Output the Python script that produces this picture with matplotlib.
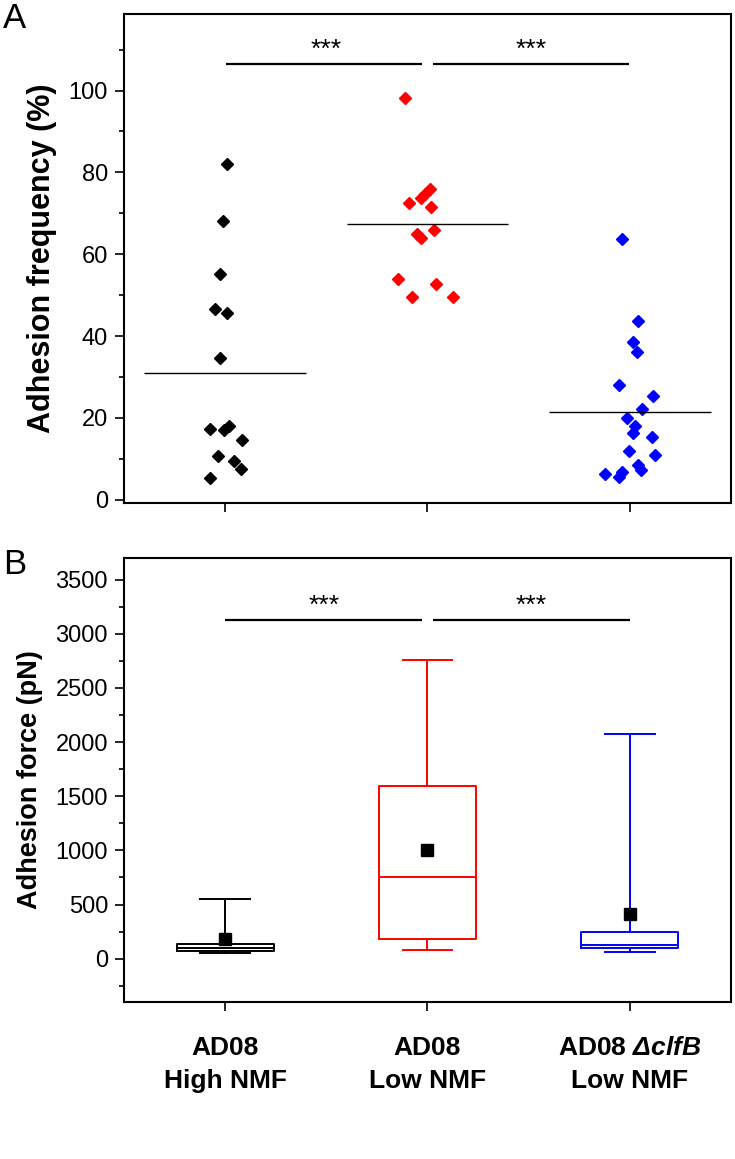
import matplotlib
matplotlib.use("Agg")
import matplotlib.pyplot as plt
from matplotlib.ticker import MultipleLocator

plt.rcParams['font.family'] = ['Liberation Sans', 'DejaVu Sans']
plt.rcParams['mathtext.fontset'] = 'custom'
plt.rcParams['mathtext.bfit'] = 'Liberation Sans:italic:bold'

# groups
groups = ['AD08\nHigh NMF', 'AD08\nLow NMF', 'AD08 $\\mathbfit{Δ clfB}$\nLow NMF']
colors = ['black', 'red', 'blue']

# panel A: adhesion frequency (%) per cell, x = jittered position
high_x = [1.011, 0.989, 0.975, 0.951, 1.010, 0.975, 0.926, 0.992, 1.021, 1.085, 0.964, 1.043, 1.079, 0.926]
high_y = [82.0, 68.1, 55.2, 46.5, 45.7, 34.7, 17.4, 17.1, 18.1, 14.7, 10.8, 9.4, 7.5, 5.3]
low_x = [1.891, 2.011, 1.987, 1.970, 1.909, 2.016, 2.031, 1.949, 1.970, 1.852, 2.040, 1.924, 2.126]
low_y = [98.1, 75.9, 74.7, 73.8, 72.6, 71.6, 65.8, 64.9, 64.0, 54.0, 52.6, 49.5, 49.5]
mut_x = [2.962, 3.041, 3.016, 3.033, 2.946, 3.115, 3.061, 2.984, 3.025, 3.016, 3.110, 2.995,
         3.123, 3.041, 3.053, 2.877, 2.959, 2.947]
mut_y = [63.8, 43.7, 38.5, 36.1, 28.1, 25.3, 22.2, 20.0, 18.0, 16.2, 15.3, 12.0,
         10.9, 8.4, 7.3, 6.4, 6.8, 5.6]
freq_means = [31.0, 67.3, 21.4]

# panel B: adhesion force (pN) box stats
whislo = [49, 76, 61]
q1 = [70, 178, 95]
med = [101, 752, 126]
q3 = [132, 1599, 245]
whishi = [555, 2754, 2078]
force_means = [184, 1007, 408]

fig = plt.figure(figsize=(7.35, 11.59), dpi=100)
axA = fig.add_axes([124/735, 1-503/1159, 607/735, 489/1159])
axB = fig.add_axes([124/735, 1-1002/1159, 607/735, 444/1159])

for ax in (axA, axB):
    for s in ax.spines.values():
        s.set_linewidth(1.5)
    ax.tick_params(which='both', direction='out', width=1.2, top=False, right=False)
    ax.tick_params(which='major', length=6.5, labelsize=17, pad=5)
    ax.tick_params(which='minor', length=3.5)
    ax.set_xlim(0.5, 3.5)
    ax.set_xticks([1, 2, 3])

# ---- panel A
for xs, ys, c in [(high_x, high_y, 'black'), (low_x, low_y, 'red'), (mut_x, mut_y, 'blue')]:
    axA.plot(xs, ys, ls='none', marker='D', ms=6.5, color=c, mec=c)
for i, m in enumerate(freq_means):
    axA.hlines(m, i + 1 - 0.4, i + 1 + 0.4, color='black', lw=1.0)
axA.set_ylim(-0.8, 118.7)
axA.set_yticks(range(0, 101, 20))
axA.yaxis.set_minor_locator(MultipleLocator(10))
axA.set_xticklabels([])
axA.set_ylabel('Adhesion frequency (%)', fontsize=22, fontweight='bold')
axA.yaxis.set_label_coords(-0.11, 0.5)
axA.hlines(106.4, 1.005, 1.973, color='black', lw=1.6)
axA.hlines(106.4, 2.028, 2.995, color='black', lw=1.6)
axA.text(1.50, 108.3, '***', ha='center', va='baseline', fontsize=19)
axA.text(2.51, 108.3, '***', ha='center', va='baseline', fontsize=19)

# ---- panel B
for i in range(3):
    c = colors[i]
    st = dict(whislo=whislo[i], q1=q1[i], med=med[i], q3=q3[i],
              whishi=whishi[i], mean=force_means[i], fliers=[])
    axB.bxp([st], positions=[i + 1], widths=0.48, capwidths=0.245, showmeans=True,
            showfliers=False,
            boxprops=dict(color=c, lw=1.4), medianprops=dict(color=c, lw=1.4),
            whiskerprops=dict(color=c, lw=1.4), capprops=dict(color=c, lw=1.4),
            meanprops=dict(marker='s', markerfacecolor='black', markeredgecolor='black',
                           markersize=8))
axB.set_xlim(0.5, 3.5)
axB.set_ylim(-400, 3700)
axB.set_yticks(range(0, 3501, 500))
axB.yaxis.set_minor_locator(MultipleLocator(250))
axB.set_xticks([1, 2, 3])
axB.set_xticklabels(groups, fontsize=19, fontweight='bold', linespacing=1.45)
axB.tick_params(axis='x', pad=18)
axB.set_ylabel('Adhesion force (pN)', fontsize=19.5, fontweight='bold')
axB.yaxis.set_label_coords(-0.133, 0.5)
axB.hlines(3125, 1.0, 1.973, color='black', lw=1.6)
axB.hlines(3125, 2.028, 3.0, color='black', lw=1.6)
axB.text(1.49, 3190, '***', ha='center', va='baseline', fontsize=19)
axB.text(2.51, 3190, '***', ha='center', va='baseline', fontsize=19)

fig.text(3/735, 1-2/1159, 'A', fontsize=25, ha='left', va='top')
fig.text(3/735, 1-548/1159, 'B', fontsize=25, ha='left', va='top')

fig.savefig('out.png', dpi=100)
